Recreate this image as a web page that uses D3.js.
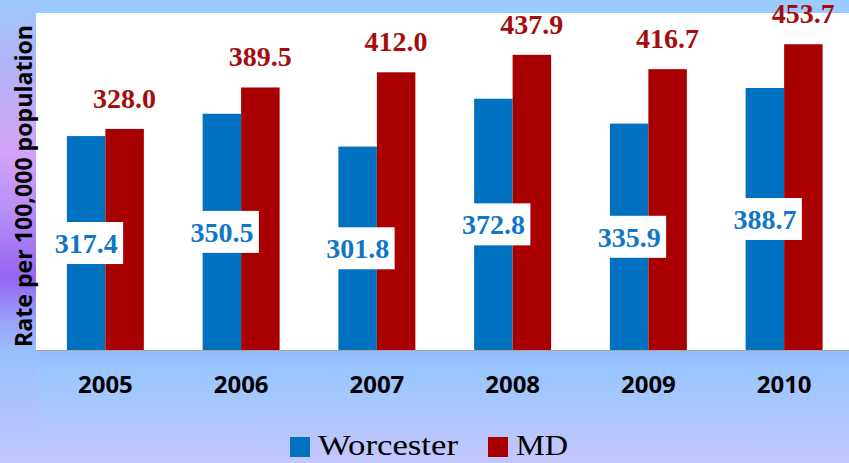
<!DOCTYPE html>
<html>
<head>
<meta charset="utf-8">
<script src="https://cdn.jsdelivr.net/npm/d3@7"></script>
<style>
    html, body { margin: 0; padding: 0; overflow: hidden; }
    svg { display: block; }
</style>
</head>
<body>
<svg id="chart" width="849" height="463"></svg>
<script>
const years = ['2005', '2006', '2007', '2008', '2009', '2010'];
const worcester = [317.4, 350.5, 301.8, 372.8, 335.9, 388.7];
const md = [328.0, 389.5, 412.0, 437.9, 416.7, 453.7];
const seriesNames = ['Worcester', 'MD'];

const colors = { Worcester: '#0070c0', MD: '#a80000' };
const labelColors = { Worcester: '#1077c8', MD: '#a50d0d' };

const width = 849;
const height = 463;
const plot = { left: 36, top: 13, right: 849, bottom: 350 };

const svg = d3.select('#chart');
const defs = svg.append('defs');

// page background
const bg = defs.append('linearGradient')
    .attr('id', 'bg')
    .attr('x1', 0).attr('y1', 0).attr('x2', 0).attr('y2', 1);
[[0, '#9ccbff'], [0.74, '#93b6f8'], [0.8, '#9ac6ff'], [1, '#c4c7fe']]
    .forEach(([o, c]) => bg.append('stop').attr('offset', o).attr('stop-color', c));

const side = defs.append('linearGradient')
    .attr('id', 'side')
    .attr('x1', 0).attr('y1', 0).attr('x2', 0).attr('y2', 1);
[[0, '#9ec9fd'], [0.14, '#b2b2f8'], [0.33, '#d3a2f9'], [0.45, '#b98ff6'],
 [0.6, '#9466f2'], [0.7, '#9aa6f8'], [0.76, '#97bffd'], [1, '#c4c7fe']]
    .forEach(([o, c]) => side.append('stop').attr('offset', o).attr('stop-color', c));

svg.append('rect')
    .attr('width', width)
    .attr('height', height)
    .attr('fill', 'url(#bg)');

svg.append('rect')
    .attr('x', 0)
    .attr('y', 0)
    .attr('width', plot.left + 2)
    .attr('height', height)
    .attr('fill', 'url(#side)');

svg.append('rect')
    .attr('x', plot.left)
    .attr('y', plot.top)
    .attr('width', plot.right - plot.left)
    .attr('height', plot.bottom - plot.top)
    .attr('fill', '#ffffff');

const x = d3.scaleBand()
    .domain(years)
    .range([plot.left + 1.5, 852])
    .paddingInner(0.433)
    .paddingOuter(0.2165);

const xSub = d3.scaleBand()
    .domain(seriesNames)
    .range([0, x.bandwidth()]);

const y = d3.scaleLinear()
    .domain([0, 500])
    .range([plot.bottom, plot.top]);

const rows = years.map((year, i) => ({
    year,
    values: [
        { name: 'Worcester', value: worcester[i] },
        { name: 'MD', value: md[i] }
    ]
}));

const groups = svg.append('g')
    .selectAll('g')
    .data(rows)
    .enter()
    .append('g')
    .attr('transform', d => `translate(${x(d.year)},0)`);

groups.selectAll('rect')
    .data(d => d.values)
    .enter()
    .append('rect')
    .attr('x', d => xSub(d.name))
    .attr('y', d => y(d.value))
    .attr('width', xSub.bandwidth())
    .attr('height', d => y(0) - y(d.value))
    .attr('fill', d => colors[d.name]);

// MD labels above the bars
groups.append('text')
    .attr('x', xSub('MD') + xSub.bandwidth() / 2)
    .attr('y', d => y(d.values[1].value) - 21)
    .attr('text-anchor', 'middle')
    .style('font-family', '"Liberation Serif", "DejaVu Serif", serif')
    .style('font-weight', 'bold')
    .style('font-size', '28px')
    .attr('fill', labelColors.MD)
    .text(d => d.values[1].value.toFixed(1));

// Worcester labels in white boxes, centred in the bar
const wLabel = groups.append('g')
    .attr('transform', d => {
        const v = d.values[0].value;
        return `translate(${xSub('Worcester') + xSub.bandwidth() / 2},${(y(v) + y(0)) / 2})`;
    });

wLabel.append('rect')
    .attr('x', -37)
    .attr('y', -21)
    .attr('width', 74)
    .attr('height', 42)
    .attr('fill', '#ffffff');

wLabel.append('text')
    .attr('y', 10)
    .attr('text-anchor', 'middle')
    .style('font-family', '"Liberation Serif", "DejaVu Serif", serif')
    .style('font-weight', 'bold')
    .style('font-size', '28px')
    .attr('fill', labelColors.Worcester)
    .text(d => d.values[0].value.toFixed(1));

// baseline
svg.append('line')
    .attr('x1', plot.left)
    .attr('x2', plot.right)
    .attr('y1', plot.bottom + 0.5)
    .attr('y2', plot.bottom + 0.5)
    .attr('stroke', '#a6a6a6')
    .attr('stroke-width', 1.2);

const xAxis = svg.append('g')
    .attr('transform', `translate(0,${plot.bottom})`)
    .call(d3.axisBottom(x).tickSize(0).tickPadding(43));

xAxis.select('.domain').remove();
xAxis.selectAll('text')
    .attr('dy', 0)
    .style('font-family', '"Open Sans", "Liberation Sans", sans-serif')
    .style('font-weight', 'bold')
    .style('font-size', '24px')
    .attr('fill', '#000');

svg.append('text')
    .attr('transform', `translate(32,${(25 + 347) / 2}) rotate(-90)`)
    .attr('text-anchor', 'middle')
    .attr('textLength', 322)
    .attr('lengthAdjust', 'spacingAndGlyphs')
    .style('font-family', '"Open Sans", "Liberation Sans", sans-serif')
    .style('font-weight', 'bold')
    .style('font-size', '24px')
    .attr('fill', '#000')
    .text('Rate per 100,000 population');

// legend
const legendItems = [
    { name: 'Worcester', x: 290, textLength: 140 },
    { name: 'MD', x: 488, textLength: 52 }
];

const legend = svg.append('g')
    .selectAll('g')
    .data(legendItems)
    .enter()
    .append('g')
    .attr('transform', d => `translate(${d.x},437)`);

legend.append('rect')
    .attr('width', 20)
    .attr('height', 20)
    .attr('fill', d => colors[d.name]);

legend.append('text')
    .attr('x', 28)
    .attr('y', 18)
    .attr('textLength', d => d.textLength)
    .attr('lengthAdjust', 'spacingAndGlyphs')
    .style('font-family', '"Liberation Serif", "DejaVu Serif", serif')
    .style('font-size', '29px')
    .attr('fill', '#000')
    .text(d => d.name);
</script>
</body>
</html>
